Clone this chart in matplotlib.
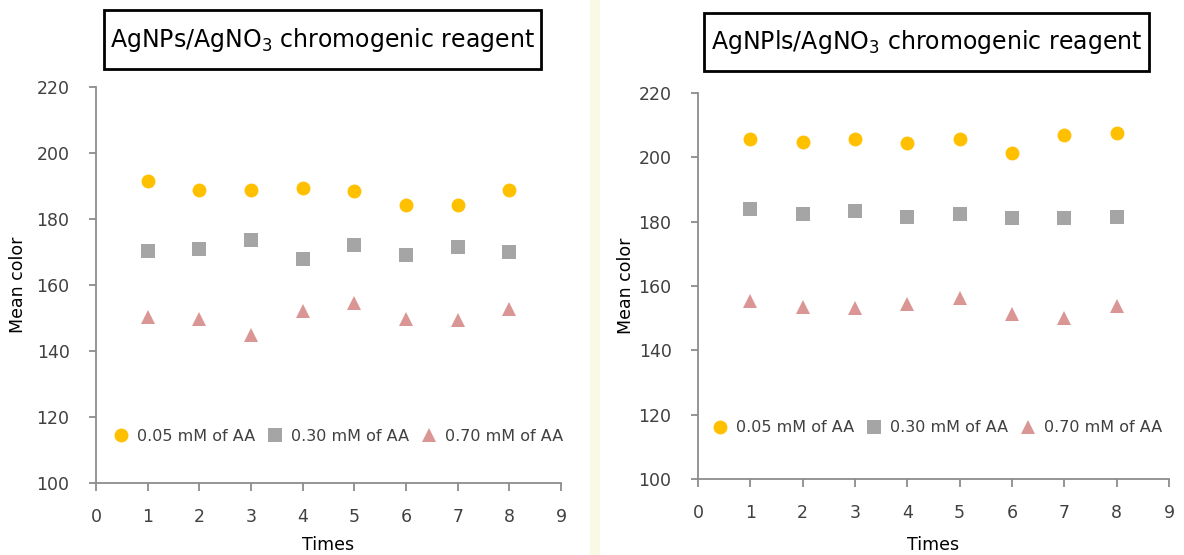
import matplotlib
matplotlib.use("Agg")
import matplotlib.pyplot as plt
from matplotlib.patches import Rectangle

# Measurement rounds
times = [1, 2, 3, 4, 5, 6, 7, 8]
series_labels = ["0.05 mM of AA", "0.30 mM of AA", "0.70 mM of AA"]

# AgNPs/AgNO3 reagent
agnps_005 = [191.4, 188.8, 188.7, 189.3, 188.6, 184.1, 184.3, 188.7]
agnps_030 = [170.3, 170.8, 173.6, 167.8, 172.1, 169.1, 171.5, 169.9]
agnps_070 = [150.4, 149.8, 144.8, 152.1, 154.4, 149.6, 149.4, 152.6]

# AgNPls/AgNO3 reagent
agnpls_005 = [205.7, 204.8, 205.6, 204.6, 205.7, 201.3, 206.8, 207.7]
agnpls_030 = [183.8, 182.3, 183.4, 181.4, 182.5, 181.1, 181.1, 181.4]
agnpls_070 = [155.4, 153.6, 153.3, 154.5, 156.2, 151.3, 150.0, 153.7]

titles = ["AgNPs/AgNO$_3$ chromogenic reagent", "AgNPls/AgNO$_3$ chromogenic reagent"]
yticks = [100, 120, 140, 160, 180, 200, 220]
xticks = list(range(0, 10))

plt.rcParams["font.family"] = ["DejaVu Sans"]
plt.rcParams["mathtext.default"] = "regular"

colors = ["#FFC000", "#A5A5A5", "#DA9694"]
markers = ["o", "s", "^"]
msizes = [10, 10, 10]
axis_grey = "#8C8C8C"
tick_grey = "#404040"

fig = plt.figure(figsize=(11.84, 5.55), dpi=100)
W, H = 1184, 555

def fx(px):
    return px / W

def fy(py):
    return 1 - py / H

# faint separator strip between the two panels
fig.patches.append(Rectangle((fx(590), 0), fx(10), 1, transform=fig.transFigure,
                             facecolor="#F9F9E6", edgecolor="none", zorder=0))

panels = [
    dict(box=(96, 87, 561, 483), data=[agnps_005, agnps_030, agnps_070],
         tbox=(104, 10, 541, 69), ylab_x=18, xlab_y=545, leg=(0.52, 0.118)),
    dict(box=(698, 93, 1169, 479), data=[agnpls_005, agnpls_030, agnpls_070],
         tbox=(704, 13, 1149, 71), ylab_x=626, xlab_y=545, leg=(0.508, 0.133)),
]

for p, title in zip(panels, titles):
    x0, y0, x1, y1 = p["box"]
    ax = fig.add_axes([fx(x0), fy(y1), fx(x1) - fx(x0), fy(y0) - fy(y1)])
    for vals, c, m, ms, lab in zip(p["data"], colors, markers, msizes, series_labels):
        ax.plot(times, vals, linestyle="none", marker=m, markersize=ms,
                color=c, markeredgewidth=0, label=lab)
    ax.set_xlim(0, 9)
    ax.set_ylim(100, 220)
    ax.set_xticks(xticks)
    ax.set_yticks(yticks)
    for s in ["top", "right"]:
        ax.spines[s].set_visible(False)
    for s in ["left", "bottom"]:
        ax.spines[s].set_color(axis_grey)
        ax.spines[s].set_linewidth(1.3)
    ax.tick_params(axis="both", colors=axis_grey, labelcolor=tick_grey,
                   labelsize=12.5, width=1.3)
    ax.tick_params(axis="x", length=6, pad=12)
    ax.tick_params(axis="y", length=5, pad=14)
    ax.set_facecolor("none")

    ax.legend(loc="center", bbox_to_anchor=p["leg"], ncol=3,
              frameon=False, fontsize=11.5, handletextpad=0.5,
              columnspacing=0.75, borderaxespad=0, handlelength=1.0,
              labelcolor=tick_grey)

    # axis titles
    fig.text(fx(p["ylab_x"]), fy((y0 + y1) / 2), "Mean color", rotation=90,
             ha="center", va="center", fontsize=12.5, color="black")
    fig.text(fx((x0 + x1) / 2), fy(p["xlab_y"]), "Times",
             ha="center", va="center", fontsize=12.5, color="black")

    # boxed chart title
    bx0, by0, bx1, by1 = p["tbox"]
    fig.patches.append(Rectangle((fx(bx0), fy(by1)), fx(bx1) - fx(bx0), fy(by0) - fy(by1),
                                 transform=fig.transFigure, facecolor="white",
                                 edgecolor="black", linewidth=2, zorder=2))
    fig.text(fx((bx0 + bx1) / 2), fy((by0 + by1) / 2), title, ha="center",
             va="center", fontsize=17, color="black", zorder=3)

fig.savefig("out.png", dpi=100)
